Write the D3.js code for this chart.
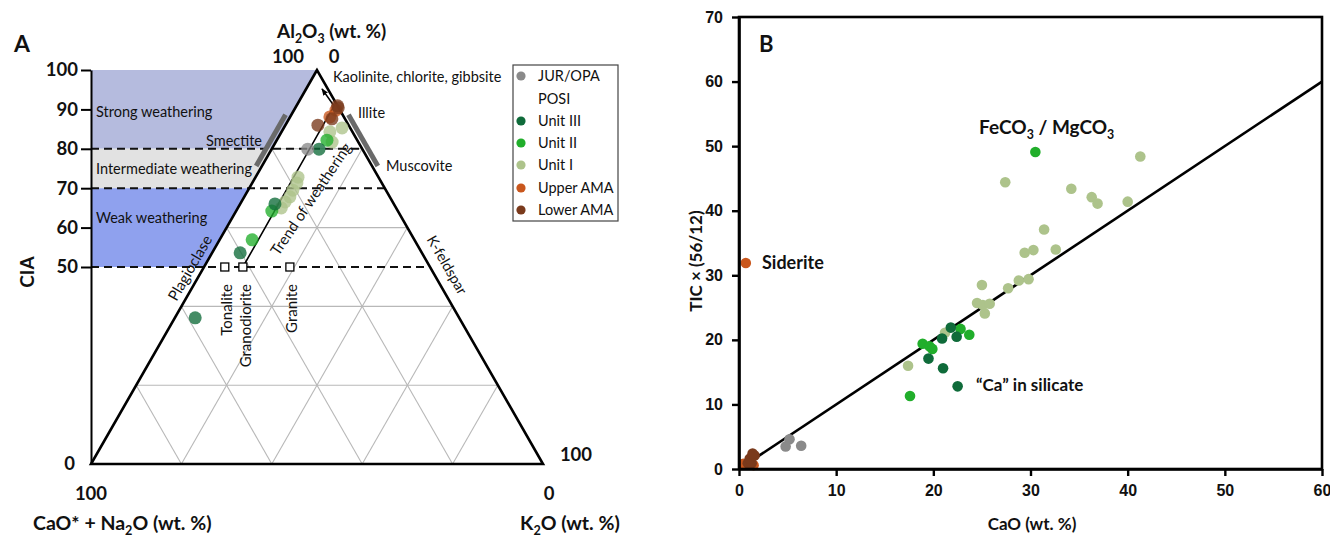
<!DOCTYPE html>
<html><head><meta charset="utf-8">
<script src="https://cdn.jsdelivr.net/npm/d3@7"></script>
<style>
body{margin:0;background:#fff}
svg{display:block}
text{font-family:Lato,"Open Sans",sans-serif;fill:#111}
.bt text{font-family:"Liberation Sans",Arial,sans-serif;font-weight:bold;font-size:16px}
</style>
</head><body>
<svg id="c" width="1330" height="538"></svg>
<script>
// ---------------- DATA ----------------
// Legend / series
const seriesNames = ["JUR/OPA","Unit III","Unit II","Unit I","Upper AMA","Lower AMA"];
const seriesColors = ["#8a8a8a","#0f6b3a","#21ae2b","#adc38b","#c9571d","#7a3a1c"];
const legendItems = ["JUR/OPA","POSI","Unit III","Unit II","Unit I","Upper AMA","Lower AMA"];

// Panel A : ternary [Al2O3, CaO*+Na2O, K2O] (wt. %)
const ternJUR      = [[79.9,12.1,8.0]];
const ternUnitIII  = [[79.9,9.6,10.5],[66.0,26.3,7.7],[53.6,40.2,6.2],[37.1,58.4,4.5]];
const ternUnitII   = [[82.2,6.7,11.1],[64.2,27.9,7.9],[56.9,35.9,7.2]];
const ternUnitI    = [[85.3,1.8,12.9],[84.3,5.0,10.7],[81.7,5.8,12.5],[72.8,17.8,9.4],[71.3,18.8,9.9],
                      [69.5,20.6,9.9],[67.8,22.1,10.1],[66.5,23.8,9.7],[65.0,25.4,9.6]];
const ternUpperAMA = [[89.8,0.9,9.3],[88.1,3.1,8.8]];
const ternLowerAMA = [[86.0,6.8,7.2],[87.6,2.9,9.5],[90.4,0.1,9.5],[90.9,0,9.1]];

const rockNames  = ["Tonalite","Granodiorite","Granite"];
const rockPoints = [[50,45.4,4.6],[50,41.4,8.6],[50,31.0,19.0]];
const trendPath  = [[50,41.4,8.6],[90.9,0.8,8.3],[95.2,1.3,3.5]];

const ciaTicks   = [0,50,60,70,80,90,100];
const gridSteps  = [20,40,60,80];
const ciaDashes  = [50,70,80];
const zoneLabels = ["Strong weathering","Intermediate weathering","Weak weathering"];
const zoneLo     = [80,70,50];
const zoneHi     = [100,80,70];
const zoneColors = ["#b5bbde","#e2e2e2","#8fa1ee"];
const smectiteRange  = [75,88];   // Al2O3 range on A–CN join
const muscoviteRange = [75,88];   // Al2O3 range on A–K join

// Panel B : [CaO, TIC*(56/12)]
const bJUR      = [[5.2,4.6],[4.8,3.5],[6.4,3.6]];
const bUnitI    = [[27.4,44.4],[41.3,48.4],[34.2,43.4],[36.3,42.1],[36.9,41.1],[40.0,41.4],[31.4,37.1],
                   [29.4,33.5],[30.3,33.9],[32.6,34.0],[28.8,29.2],[29.8,29.4],[27.7,28.0],[25.0,28.5],
                   [24.5,25.7],[25.1,25.4],[25.8,25.6],[25.3,24.1],[21.2,21.1],[17.4,16.0]];
const bUnitII   = [[30.5,49.1],[18.9,19.4],[19.6,19.0],[19.9,18.6],[22.8,21.7],[23.7,20.8],[17.6,11.3]];
const bUnitIII  = [[21.8,21.9],[20.9,20.2],[22.4,20.5],[19.5,17.1],[21.0,15.6],[22.5,12.8]];
const bUpperAMA = [[0.7,31.9],[0.45,0.8],[1.5,0.6]];
const bLowerAMA = [[0.9,0.9],[1.3,0.9],[1.1,1.6],[1.6,2.1],[1.4,2.4]];
const bXTicks = [0,10,20,30,40,50,60];
const bYTicks = [0,10,20,30,40,50,60,70];
const oneToOne = [[0,0],[60,60]];

// ---------------- DRAW ----------------
const svg = d3.select("#c");

function subText(sel, parts){
  parts.forEach(p=>{
    if(p[1]) sel.append("tspan").attr("dy",5).attr("font-size","0.65em").text(p[0]);
    else {
      const t = sel.append("tspan").text(p[0]);
      if(p[2]) t.attr("dy",-5);
    }
  });
  return sel;
}

// ===== Panel A =====
const tY = d3.scaleLinear().domain([0,100]).range([464,70]);
const tX = d3.scaleLinear().domain([0,100]).range([91,543]);
const proj = d => [tX(d[2] + d[0]/2), tY(d[0])];
const A = svg.append("g");
const axisX = tX(0);

// zones
zoneLabels.forEach((lab,i)=>{
  const lo = zoneLo[i], hi = zoneHi[i];
  const pts = [[axisX,tY(hi)], proj([hi,100-hi,0]), proj([lo,100-lo,0]), [axisX,tY(lo)]];
  A.append("path").attr("d", d3.line()(pts)).attr("fill", zoneColors[i]);
});

// grid
const gridLines = [];
gridSteps.forEach(v=>{
  gridLines.push([proj([v,100-v,0]), proj([v,0,100-v])]);
  gridLines.push([proj([0,100-v,v]), proj([100-v,0,v])]);
  gridLines.push([proj([0,v,100-v]), proj([100-v,v,0])]);
});
A.selectAll(".grid").data(gridLines).join("path")
  .attr("d", d=>d3.line()(d)).attr("stroke","#b8b8b8").attr("stroke-width",1.1).attr("fill","none");

// dashed CIA lines
A.selectAll(".dash").data(ciaDashes).join("line")
  .attr("x1",axisX).attr("x2",v=>proj([v,0,100-v])[0])
  .attr("y1",v=>tY(v)).attr("y2",v=>tY(v))
  .attr("stroke","#111").attr("stroke-width",2).attr("stroke-dasharray","8,5");

// triangle
A.append("path").attr("d", d3.line()([proj([100,0,0]),proj([0,100,0]),proj([0,0,100])])+"Z")
  .attr("fill","none").attr("stroke","#000").attr("stroke-width",2.6).attr("stroke-linejoin","miter");

// mineral bars
const nL = [-0.867,-0.498], nR = [0.867,-0.498], off = 5;
[[smectiteRange, v=>proj([v,100-v,0]), nL],[muscoviteRange, v=>proj([v,0,100-v]), nR]].forEach(([r,f,n])=>{
  const p1 = f(r[0]), p2 = f(r[1]);
  A.append("line").attr("x1",p1[0]+n[0]*off).attr("y1",p1[1]+n[1]*off)
    .attr("x2",p2[0]+n[0]*off).attr("y2",p2[1]+n[1]*off)
    .attr("stroke","#6a6a6a").attr("stroke-width",5);
});

// trend arrow
svg.append("defs").append("marker").attr("id","arr").attr("viewBox","0 0 10 10")
  .attr("refX",9).attr("refY",5).attr("markerWidth",7).attr("markerHeight",7)
  .attr("orient","auto").attr("markerUnits","userSpaceOnUse")
  .append("path").attr("d","M0,1 L10,5 L0,9 Z").attr("fill","#000");
A.append("path").attr("d", d3.line()(trendPath.map(proj))).attr("fill","none")
  .attr("stroke","#000").attr("stroke-width",1.6).attr("marker-end","url(#arr)");

// rock squares
A.selectAll(".rock").data(rockPoints).join("rect")
  .attr("x",d=>proj(d)[0]-4).attr("y",d=>proj(d)[1]-4).attr("width",8).attr("height",8)
  .attr("fill","#fff").attr("stroke","#000").attr("stroke-width",1.3);

// dots
const ternSeries = [ternUnitI, ternUnitII, ternUnitIII, ternJUR, ternUpperAMA, ternLowerAMA];
const ternColorIdx = [3,2,1,0,4,5];
ternSeries.forEach((s,i)=>{
  A.selectAll(null).data(s).join("circle")
    .attr("cx",d=>proj(d)[0]).attr("cy",d=>proj(d)[1]).attr("r",6.5)
    .attr("fill",seriesColors[ternColorIdx[i]]).attr("fill-opacity",0.78);
});

// CIA axis
const ciaAxis = d3.axisLeft(tY).tickValues(ciaTicks).tickSize(10).tickSizeOuter(0).tickPadding(3);
const ga = A.append("g").attr("transform",`translate(${axisX},0)`).call(ciaAxis);
ga.select(".domain").attr("stroke","#000").attr("stroke-width",2);
ga.selectAll(".tick line").attr("stroke","#000").attr("stroke-width",2).filter(d=>d===0).remove();
ga.selectAll(".tick text").attr("font-family","Lato").attr("font-weight","bold").attr("font-size",18.5).attr("fill","#111");
ga.selectAll(".tick").filter(d=>d===0).select("text").attr("x",-16);

// zone labels
const zoneY = [117,174,223];
zoneLabels.forEach((l,i)=>A.append("text").attr("x",96).attr("y",zoneY[i]).attr("font-size",14.5).text(l));

// mineral / rock labels
const lab = (x,y,t,opt={})=>{
  const e = A.append("text").attr("x",x).attr("y",y).attr("font-size",opt.fs||14.5).text(t);
  if(opt.anchor) e.attr("text-anchor",opt.anchor);
  if(opt.rot!==undefined) e.attr("transform",`rotate(${opt.rot},${x},${y})`);
  if(opt.dy) e.attr("dy",opt.dy);
  return e;
};
lab(262,146,"Smectite",{anchor:"end"});
lab(333,82,"Kaolinite, chlorite, gibbsite");
lab(358,118,"Illite");
lab(386,171,"Muscovite");
lab(190,268,"Plagioclase",{anchor:"middle",rot:-60,dy:"0.35em",fs:15});
lab(311,199,"Trend of weathering",{anchor:"middle",rot:-56,dy:"0.35em",fs:15});
lab(447,265,"K-feldspar",{anchor:"middle",rot:60,dy:"0.35em",fs:14.5});
const rockLabX = [227,246,292];
rockNames.forEach((n,i)=>lab(rockLabX[i],284,n,{anchor:"end",rot:-90,dy:"0.35em",fs:15}));

// axis titles panel A
A.append("text").attr("x",14).attr("y",52).attr("font-size",23).attr("font-weight","bold").text("A");
subText(A.append("text").attr("x",277).attr("y",38).attr("font-size",19).attr("font-weight","bold"),
  [["Al"],["2",1],["O",0,1],["3",1],[" (wt. %)",0,1]]);
A.append("text").attr("x",288).attr("y",63).attr("text-anchor","middle").attr("font-size",18.5).attr("font-weight","bold").text("100");
A.append("text").attr("x",334).attr("y",63).attr("text-anchor","middle").attr("font-size",18.5).attr("font-weight","bold").text("0");
A.append("text").attr("x",91).attr("y",500).attr("text-anchor","middle").attr("font-size",18.5).attr("font-weight","bold").text("100");
A.append("text").attr("x",549).attr("y",500).attr("text-anchor","middle").attr("font-size",18.5).attr("font-weight","bold").text("0");
A.append("text").attr("x",576).attr("y",461).attr("text-anchor","middle").attr("font-size",18.5).attr("font-weight","bold").text("100");
A.append("text").attr("transform","translate(34,272) rotate(-90)").attr("text-anchor","middle")
  .attr("font-size",19).attr("font-weight","bold").text("CIA");
subText(A.append("text").attr("x",33).attr("y",530).attr("font-size",19.5).attr("font-weight","bold"),
  [["CaO* + Na"],["2",1],["O (wt. %)",0,1]]);
subText(A.append("text").attr("x",520).attr("y",530).attr("font-size",19.5).attr("font-weight","bold"),
  [["K"],["2",1],["O (wt. %)",0,1]]);

// legend
A.append("rect").attr("x",513).attr("y",65).attr("width",105).attr("height",156)
  .attr("fill","#fff").attr("stroke","#444").attr("stroke-width",1.2);
const legY = [76,99,121,143,165,188,210];
legendItems.forEach((n,i)=>{
  const ci = seriesNames.indexOf(n);
  if(ci>=0) A.append("circle").attr("cx",521).attr("cy",legY[i]).attr("r",4.6).attr("fill",seriesColors[ci]);
  A.append("text").attr("x",538).attr("y",legY[i]).attr("dy","0.35em").attr("font-size",14.5).text(n);
});

// ===== Panel B =====
const B = svg.append("g");
const xB = d3.scaleLinear().domain([0,60]).range([739,1322]);
const yB = d3.scaleLinear().domain([0,70]).range([469,17]);

B.append("path").attr("d", d3.line().x(d=>xB(d[0])).y(d=>yB(d[1]))(oneToOne))
  .attr("stroke","#000").attr("stroke-width",2.6).attr("fill","none");

const bSeries = [bJUR, bUnitI, bUnitII, bUnitIII, bUpperAMA, bLowerAMA];
const bColorIdx = [0,3,2,1,4,5];
bSeries.forEach((s,i)=>{
  B.selectAll(null).data(s).join("circle")
    .attr("cx",d=>xB(d[0])).attr("cy",d=>yB(d[1])).attr("r",5.3)
    .attr("fill",seriesColors[bColorIdx[i]]);
});

// box
B.append("rect").attr("x",xB(0)).attr("y",yB(70)).attr("width",xB(60)-xB(0)).attr("height",yB(0)-yB(70))
  .attr("fill","none").attr("stroke","#000").attr("stroke-width",2.6);
const gx = B.append("g").attr("class","bt").attr("transform",`translate(0,${yB(0)})`)
  .call(d3.axisBottom(xB).tickValues(bXTicks).tickSize(7).tickSizeOuter(0).tickPadding(9));
const gy = B.append("g").attr("class","bt").attr("transform",`translate(${xB(0)},0)`)
  .call(d3.axisLeft(yB).tickValues(bYTicks).tickSize(7).tickSizeOuter(0).tickPadding(9));
[gx,gy].forEach(g=>{
  g.select(".domain").attr("stroke","#000").attr("stroke-width",2.6);
  g.selectAll(".tick line").attr("stroke","#000").attr("stroke-width",2.4);
  g.selectAll(".tick text").attr("fill","#111");
});

B.append("text").attr("x",759).attr("y",52).attr("font-size",22).attr("font-weight","bold").text("B");
B.append("text").attr("x",1032).attr("y",530).attr("text-anchor","middle").attr("font-size",17).attr("font-weight","bold").text("CaO (wt. %)");
B.append("text").attr("transform","translate(702,261) rotate(-90)").attr("text-anchor","middle")
  .attr("font-size",17).attr("font-weight","bold").text("TIC × (56/12)");
subText(B.append("text").attr("x",979).attr("y",134).attr("font-size",19).attr("font-weight","bold"),
  [["FeCO"],["3",1],[" / MgCO",0,1],["3",1]]);
B.append("text").attr("x",762).attr("y",269).attr("font-size",18).attr("font-weight","bold").text("Siderite");
B.append("text").attr("x",976).attr("y",391).attr("font-size",17).attr("font-weight","bold").text("\u201CCa\u201D in silicate");
</script>
</body></html>
